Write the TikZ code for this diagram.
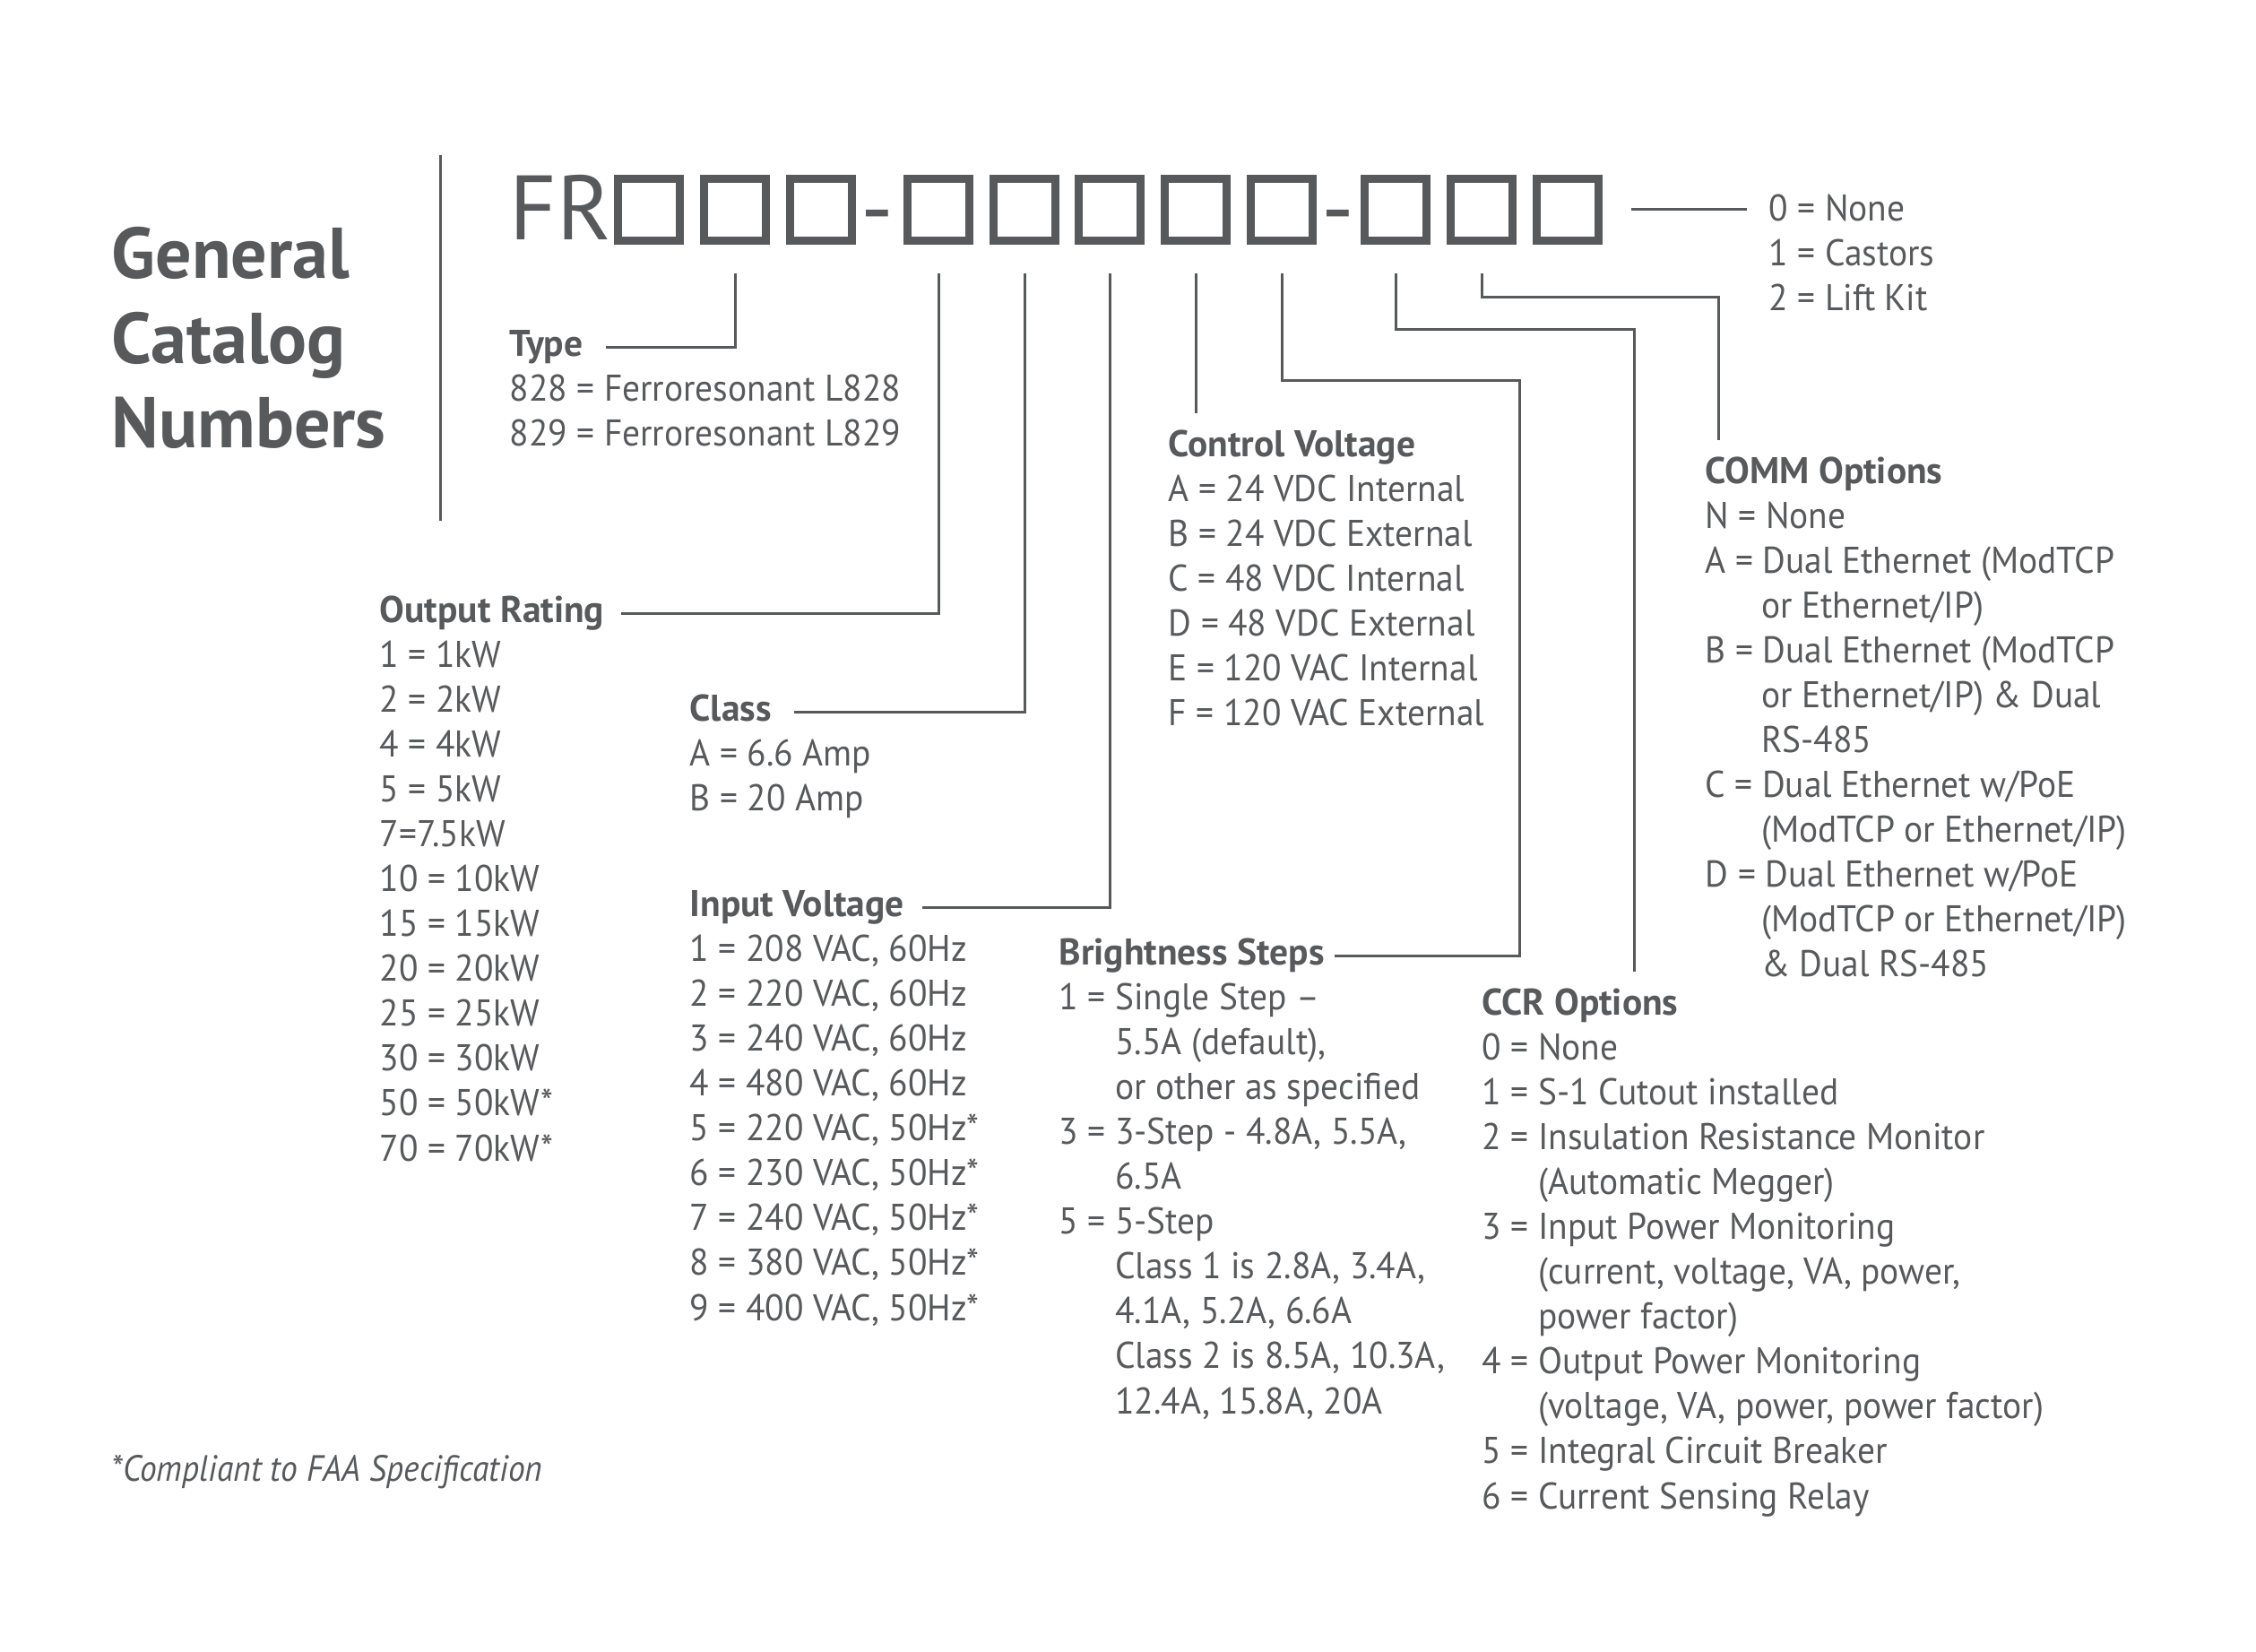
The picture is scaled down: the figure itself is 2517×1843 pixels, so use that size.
\documentclass[tikz,border=0pt]{standalone}
\usepackage{fontspec}
\setmainfont{PT Sans}[UprightFeatures={FakeStretch=0.95}, ItalicFeatures={FakeStretch=0.92}]
\newfontfamily\wideface{PT Sans}
\definecolor{ink}{RGB}{88,89,91}
\newcommand\indt{\hphantom{0 = }}

\begin{document}
\begin{tikzpicture}[x=0.01cm,y=-0.01cm,
  every node/.style={inner sep=0pt, text=ink, anchor=base west},
  txt/.style={font=\fontsize{11.8}{14.23}\selectfont, align=left},
  head/.style={font=\fontsize{11.8}{14.23}\selectfont\bfseries, text height=8.7pt, text depth=2.6pt},
  code/.style={font=\wideface\fontsize{29}{30}\selectfont},
  digit/.style={draw=ink, line width=0.09cm, minimum size=0.69cm, anchor=center},
  link/.style={draw=ink, line width=0.03cm, shorten <=0.32cm}]
\useasboundingbox (0,0) rectangle (2517,1843);

% title and divider (multi-line nodes sit on their last baseline)
\node[font=\wideface\fontsize{22.8}{27}\selectfont\bfseries, align=left] (title) at (124,500) {General\\Catalog\\Numbers};
\draw[ink, line width=0.03cm] (491,173) -- (491,581);

% part number
\node[code] (fr) at (568,268) {FR};
\foreach \n/\x in {1/724,2/820,3/916,4/1047,5/1143,6/1238,7/1334,8/1430,9/1557,10/1653,11/1749}
  \node[digit] (b\n) at (\x,234) {};
\node[code, anchor=base] (d1) at (979,268) {-};
\node[code, anchor=base] (d2) at (1493,268) {-};

% option fields
\node[txt] (opts) at (1973,347) {0 = None\\1 = Castors\\2 = Lift Kit};

\node[head] (type) at (568,398) {Type};
\node[txt] (typel) at (568,498) {828 = Ferroresonant L828\\829 = Ferroresonant L829};

\node[head] (rating) at (423,695) {Output Rating};
\node[txt] (ratingl) at (423,1295) {1 = 1kW\\2 = 2kW\\4 = 4kW\\5 = 5kW\\7=7.5kW\\10 = 10kW\\15 = 15kW\\20 = 20kW\\25 = 25kW\\30 = 30kW\\50 = 50kW*\\70 = 70kW*};

\node[head] (class) at (769,805) {Class};
\node[txt] (classl) at (769,905) {A = 6.6 Amp\\B = 20 Amp};

\node[head] (input) at (769,1023) {Input Voltage};
\node[txt] (inputl) at (769,1473) {1 = 208 VAC, 60Hz\\2 = 220 VAC, 60Hz\\3 = 240 VAC, 60Hz\\4 = 480 VAC, 60Hz\\5 = 220 VAC, 50Hz*\\6 = 230 VAC, 50Hz*\\7 = 240 VAC, 50Hz*\\8 = 380 VAC, 50Hz*\\9 = 400 VAC, 50Hz*};

\node[head] (ctrl) at (1303,510) {Control Voltage};
\node[txt] (ctrll) at (1303,810) {A = 24 VDC Internal\\B = 24 VDC External\\C = 48 VDC Internal\\D = 48 VDC External\\E = 120 VAC Internal\\F = 120 VAC External};

\node[head] (bright) at (1181,1077) {Brightness Steps};
\node[txt] (brightl) at (1181,1577) {1 = Single Step --\\\indt 5.5A (default),\\\indt or other as specified\\3 = 3-Step - 4.8A, 5.5A,\\\indt 6.5A\\5 = 5-Step\\\indt Class 1 is 2.8A, 3.4A,\\\indt 4.1A, 5.2A, 6.6A\\\indt Class 2 is 8.5A, 10.3A,\\\indt 12.4A, 15.8A, 20A};

\node[head] (ccr) at (1653,1133) {CCR Options};
\node[txt] (ccrl) at (1653,1683) {0 = None\\1 = S-1 Cutout installed\\2 = Insulation Resistance Monitor\\\indt (Automatic Megger)\\3 = Input Power Monitoring\\\indt (current, voltage, VA, power,\\\indt power factor)\\4 = Output Power Monitoring\\\indt (voltage, VA, power, power factor)\\5 = Integral Circuit Breaker\\6 = Current Sensing Relay};

\node[head] (comm) at (1902,540) {COMM Options};
\node[txt] (comml) at (1902,1090) {N = None\\A = Dual Ethernet (ModTCP\\\indt or Ethernet/IP)\\B = Dual Ethernet (ModTCP\\\indt or Ethernet/IP) \& Dual\\\indt RS-485\\C = Dual Ethernet w/PoE\\\indt (ModTCP or Ethernet/IP)\\D = Dual Ethernet w/PoE\\\indt (ModTCP or Ethernet/IP)\\\indt \& Dual RS-485};

\node[font=\fontsize{11.6}{14.23}\selectfont\itshape] (note) at (124,1652) {*Compliant to FAA Specification};

% bend points
\coordinate (k8) at (1695,425);
\coordinate (k9) at (1823,368);
\coordinate (k10) at (1917,332);

% connectors
\draw[link, shorten >=0.24cm] (b11.east) -- (b11.east -| opts.west);
\draw[link, shorten >=0.25cm] (b2.south) |- (type.east);
\draw[link, shorten >=0.18cm] (b4.south) |- (rating.east);
\draw[link, shorten >=0.25cm] (b5.south) |- (class.east);
\draw[link, shorten >=0.2cm] (b6.south) |- (input.east);
\draw[link, shorten >=0.18cm] (b7.south) -- (b7.south |- ctrl.north);
\draw[link, shorten >=0.1cm] (b8.south) |- (k8) |- (bright.east);
\draw[link, shorten >=0.18cm] (b9.south) |- (k9) -- (k9 |- ccr.north);
\draw[link, shorten >=0.18cm] (b10.south) |- (k10) -- (k10 |- comm.north);
\end{tikzpicture}
\end{document}
